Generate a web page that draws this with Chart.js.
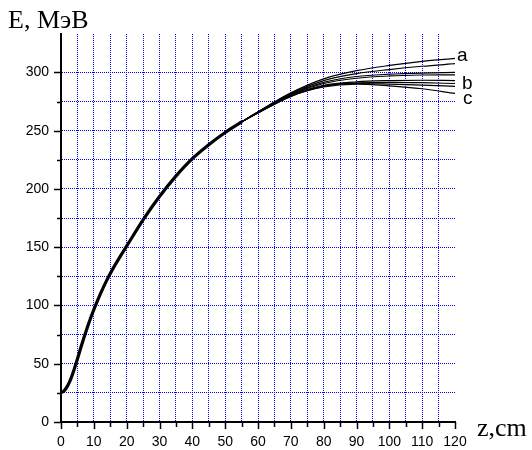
<!DOCTYPE html>
<html>
<head>
<meta charset="utf-8">
<script src="https://cdn.jsdelivr.net/npm/chart.js@4"></script>
<style>
  body { margin: 0; background: #fff; }
  #wrap { width: 532px; height: 450px; }
</style>
</head>
<body>
<div id="wrap"><canvas id="energyChart"></canvas></div>
<script>
// common part of all curves
const trunkZ = [0, 1, 2, 3, 4, 5, 6, 7, 8, 9, 10, 12, 14, 16, 18, 20, 25, 30, 35, 40, 45, 50, 55];
const trunkE = [25, 27, 31, 37, 45, 54, 63.5, 72.5, 81, 89, 96.5, 110, 122, 132.5, 142, 151, 173.5, 193.5, 211, 226, 238, 248.5, 257.5];

// the curves split up after z = 55
const branchZ = [60, 70, 80, 90, 100, 110, 120];
const curveA = [266.3, 282.5, 294.5, 301.5, 306, 309.5, 312];
const curve2 = [266.1, 282, 293, 299, 302.5, 305.3, 307.5];
const curve3 = [266, 281.5, 291.5, 296.5, 298.5, 299.5, 300];
const curveB = [265.8, 281, 290.5, 295, 297, 297.8, 298];
const curve5 = [265.5, 280.5, 289, 292, 293, 293.3, 293];
const curve6 = [265.4, 280, 288.5, 291, 291.5, 291.2, 290.5];
const curve7 = [265.2, 279.5, 288, 290.5, 290, 289.2, 288];
const curveC = [265.2, 279.5, 287.5, 290, 288.5, 286, 282];

const branches = [curveA, curve2, curve3, curveB, curve5, curve6, curve7, curveC];

// curve letters and the E value they sit at, at the right end
const curveLabels = ["a", "b", "c"];
const labelE = [314, 290, 277];
const labelDx = [2, 7, 8];

function toPoints(xs, ys) {
    return xs.map((x, i) => ({ x: x, y: ys[i] }));
}

const datasets = [{
    data: toPoints(trunkZ, trunkE),
    borderColor: "#000",
    borderWidth: 3.2,
    pointRadius: 0,
    cubicInterpolationMode: "monotone"
}];

branches.forEach(b => {
    datasets.push({
        data: toPoints(trunkZ.concat(branchZ), trunkE.concat(b)),
        borderColor: "#000",
        borderWidth: 1.2,
        pointRadius: 0,
        cubicInterpolationMode: "monotone"
    });
});

const tickMarks = {
    id: "tickMarks",
    afterDraw(chart) {
        const { ctx, scales: { x, y } } = chart;
        ctx.save();
        ctx.strokeStyle = "#000";
        ctx.lineWidth = 1.5;
        x.ticks.forEach(t => {
            const px = Math.round(x.getPixelForValue(t.value)) + 0.5;
            const len = t.value % 10 === 0 ? 7 : 5;
            ctx.beginPath();
            ctx.moveTo(px, x.top);
            ctx.lineTo(px, x.top + len);
            ctx.stroke();
        });
        y.ticks.forEach(t => {
            const py = Math.round(y.getPixelForValue(t.value)) + 0.5;
            const len = t.value % 50 === 0 ? 7 : 4;
            ctx.beginPath();
            ctx.moveTo(y.right, py);
            ctx.lineTo(y.right - len, py);
            ctx.stroke();
        });

        // axis titles
        ctx.fillStyle = "#000";
        ctx.font = "26px 'Liberation Serif'";
        ctx.textAlign = "left";
        ctx.textBaseline = "alphabetic";
        ctx.fillText("E, МэВ", 8, 28);
        ctx.fillText("z,cm", 477, 436);

        // curve letters
        ctx.font = "19px 'Liberation Sans'";
        ctx.textBaseline = "middle";
        const xEnd = x.getPixelForValue(120);
        curveLabels.forEach((txt, i) => {
            ctx.fillText(txt, xEnd + labelDx[i], y.getPixelForValue(labelE[i]));
        });
        ctx.restore();
    }
};

new Chart(document.getElementById("energyChart"), {
    type: "line",
    data: { datasets: datasets },
    options: {
        responsive: true,
        maintainAspectRatio: false,
        animation: false,
        layout: { padding: { top: 34, right: 77, left: 0, bottom: 0 } },
        plugins: { legend: { display: false }, tooltip: { enabled: false } },
        scales: {
            x: {
                type: "linear",
                min: 0,
                max: 120,
                afterFit: s => { s.height = 28; },
                ticks: {
                    stepSize: 5,
                    padding: 12,
                    color: "#000",
                    font: { family: "'Liberation Sans'", size: 14 },
                    maxRotation: 0,
                    autoSkip: false,
                    callback: v => (v % 10 === 0 ? v : "")
                },
                grid: {
                    drawTicks: false,
                    color: c => (c.tick && (c.tick.value === 0 || c.tick.value === 120) ? "rgba(0,0,0,0)" : "#0000ff"),
                    lineWidth: 1
                },
                border: { color: "#000", width: 2, dash: [1, 1] }
            },
            y: {
                min: 0,
                max: 333,
                afterFit: s => { s.width = 61; },
                afterBuildTicks: s => { s.ticks = s.ticks.filter(t => t.value % 25 === 0); },
                ticks: {
                    stepSize: 25,
                    padding: 12,
                    color: "#000",
                    font: { family: "'Liberation Sans'", size: 14 },
                    autoSkip: false,
                    callback: v => (v % 50 === 0 ? v : "")
                },
                grid: {
                    drawTicks: false,
                    color: c => (c.tick && c.tick.value === 0 ? "rgba(0,0,0,0)" : "#0000ff"),
                    lineWidth: 1
                },
                border: { color: "#000", width: 2, dash: [1, 1] }
            }
        }
    },
    plugins: [tickMarks]
});
</script>
</body>
</html>
